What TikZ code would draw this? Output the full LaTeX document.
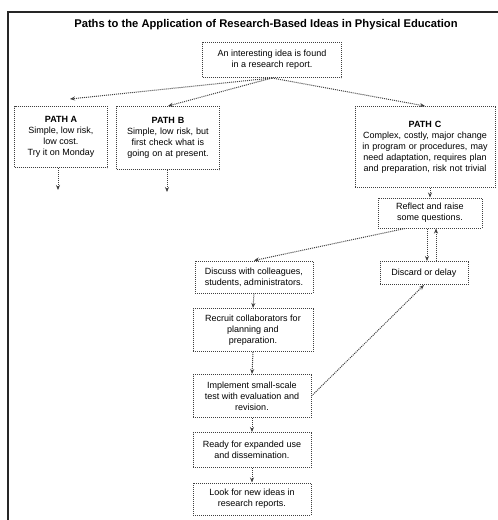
\documentclass[tikz,border=0pt]{standalone}
\usepackage{fontspec}
\setmainfont{Liberation Sans}
\usepackage{tikz}
\usetikzlibrary{arrows.meta,positioning}

\begin{document}
\begin{tikzpicture}[x=1pt, y=-1pt,
      stepbox/.style={draw=black!75, densely dotted, line width=1pt, fill=white,
                  font=\fontsize{9}{11}\selectfont, align=center, inner sep=2pt},
      arr/.style={-{Stealth[length=5pt,width=4pt]}, draw=black!75, densely dotted,
                  line width=1pt}
  ]
    \useasboundingbox (0,0) rectangle (498,520);
    % frame
    \draw[line width=1.4pt, black!85] (8,520) -- (8,12) -- (498,12);
    \node[font=\fontsize{11.2}{13}\selectfont\bfseries] (title) at (266,25)
          {Paths to the Application of Research-Based Ideas in Physical Education};
    % top idea
    \node[stepbox, minimum width=139pt, minimum height=35pt] (idea) at (272,60)
          {An interesting idea is found\\ in a research report.};
    % the three paths
    \node[stepbox, minimum width=93pt, minimum height=61pt] (pathA) at (61,137)
          {\textbf{PATH A}\\ Simple, low risk,\\ low cost.\\ Try it on Monday};
    \node[stepbox, minimum width=103pt, minimum height=63pt, text width=99pt] (pathB) at (168,138)
          {\textbf{PATH B}\\ Simple, low risk, but\\ first check what is\\ going on at present.};
    \node[stepbox, minimum width=140pt, minimum height=81pt, text width=136pt] (pathC) at (425,147)
          {\textbf{PATH C}\\ Complex, costly, major change\\ in program or procedures, may\\ need adaptation, requires plan\\ and preparation, risk not trivial};
    % path C steps
    \node[stepbox, minimum width=104pt, minimum height=30pt] (reflect) at (430,213)
          {Reflect and raise\\ some questions.};
    \node[stepbox, minimum width=88pt, minimum height=23pt] (discard) at (424,273)
          {Discard or delay};
    \node[stepbox, minimum width=118pt, minimum height=32pt] (discuss) at (254,277)
          {Discuss with colleagues,\\ students, administrators.};
    \node[stepbox, minimum width=120pt, minimum height=43pt] (recruit) at (253,330)
          {Recruit collaborators for\\ planning and\\ preparation.};
    \node[stepbox, minimum width=118pt, minimum height=43pt] (implement) at (252,396)
          {Implement small-scale\\ test with evaluation and\\ revision.};
    \node[stepbox, minimum width=118pt, minimum height=35pt] (ready) at (252,450)
          {Ready for expanded use\\ and dissemination.};
    \node[stepbox, minimum width=118pt, minimum height=32pt] (look) at (252,499)
          {Look for new ideas in\\ research reports.};
    \coordinate (aout) at (58,190);
    \coordinate (bout) at (167,192);
    % connectors
    \draw[arr] (idea.south) -- ([xshift=9pt, yshift=7pt]pathA.north);
    \draw[arr] (idea.south) -- (pathB.north);
    \draw[arr] (idea.south) -- (pathC.north);
    \draw[arr] (pathA.south -| aout) -- (aout);
    \draw[arr] (pathB.south -| bout) -- (bout);
    \draw[arr] (pathC.south -| reflect) -- (reflect.north);
    \draw[arr] ([xshift=-3pt]reflect.south) -- ([xshift=-3pt]reflect.south |- discard.north);
    \draw[arr] ([xshift=6pt]reflect.south |- discard.north) -- ([xshift=6pt]reflect.south);
    \draw[arr] ([xshift=-25pt]reflect.south) -- (discuss.north);
    \foreach \a/\b in {discuss/recruit, recruit/implement, implement/ready, ready/look}
      \draw[arr] (\a.south) -- (\b.north);
    \draw[arr] (implement.east) -- (discard.south);
  \end{tikzpicture}
\end{document}
